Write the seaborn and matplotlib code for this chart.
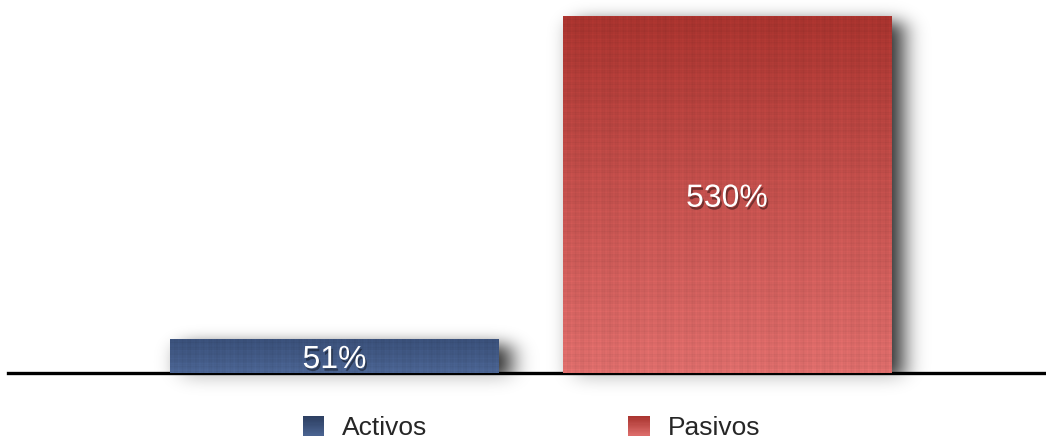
import numpy as np
import pandas as pd
import matplotlib
matplotlib.use("Agg")
import matplotlib.pyplot as plt
import matplotlib.patheffects as pe
from matplotlib.colors import to_rgb
from matplotlib.patches import Rectangle
from matplotlib.legend_handler import HandlerBase
import seaborn as sns

# ---- data -----------------------------------------------------------------
categories = ["Activos", "Pasivos"]
values = [51, 530]
value_labels = ["51%", "530%"]
top_colors = ["#394f78", "#a8332e"]
bottom_colors = ["#4a6391", "#dd6d6b"]

# ---- figure ----------------------------------------------------------------
W_PX, H_PX, DPI = 1046, 438, 100
sns.set_theme(style="white")
plt.rcParams["font.family"] = ["Liberation Sans", "DejaVu Sans"]

fig = plt.figure(figsize=(W_PX / DPI, H_PX / DPI), dpi=DPI)
ax_left, ax_bottom = 8, 65
ax_w, ax_h = W_PX - ax_left, H_PX - ax_bottom
ax = fig.add_axes([ax_left / W_PX, ax_bottom / H_PX, ax_w / W_PX, ax_h / H_PX])

df = pd.DataFrame({"categoria": categories, "valor": values})
sns.barplot(data=df, x="categoria", y="valor", hue="categoria",
            palette=top_colors, width=0.838, ax=ax, legend=False,
            saturation=1, zorder=3)

XLIM = (-0.832, 1.813)
YLIM = (0, 553.7)
ax.set_xlim(*XLIM)
ax.set_ylim(*YLIM)
ax.set_xlabel("")
ax.set_ylabel("")
ax.set_xticks([])
ax.set_yticks([])
for side in ["left", "right", "top"]:
    ax.spines[side].set_visible(False)
ax.spines["bottom"].set_color("black")
ax.spines["bottom"].set_linewidth(2.4)
ax.spines["bottom"].set_zorder(2)

px_per_x = ax_w / (XLIM[1] - XLIM[0])
px_per_y = ax_h / (YLIM[1] - YLIM[0])


def blend(c_top, c_bot, t):
    a, b = np.array(to_rgb(c_top)), np.array(to_rgb(c_bot))
    return a * (1 - t) + b * t


def linen(rows, cols):
    """Faint woven-cloth shading: uneven vertical and horizontal threads."""
    r = np.arange(rows)[:, None]
    c = np.arange(cols)[None, :]
    vert = (np.sin(c * 0.91) + 0.7 * np.sin(c * 2.37 + 1.3)
            + 0.5 * np.sin(c * 0.23 + 0.4))
    horiz = (np.sin(r * 1.07 + 0.6) + 0.7 * np.sin(r * 2.71)
             + 0.5 * np.sin(r * 0.19 + 2.1))
    return 1 + 0.018 * vert + 0.018 * horiz


# ---- gradient fill clipped to each bar -------------------------------------
bars = list(ax.patches)
for bar, ctop, cbot in zip(bars, top_colors, bottom_colors):
    x0, y0 = bar.get_x(), bar.get_y()
    w, h = bar.get_width(), bar.get_height()
    rows = max(int(round(h * px_per_y)), 2)
    cols = max(int(round(w * px_per_x)), 2)
    t = np.linspace(0, 1, rows)[:, None, None]
    grad = blend(ctop, cbot, t) * np.ones((1, cols, 1))
    grad = np.clip(grad * linen(rows, cols)[:, :, None], 0, 1)
    im = ax.imshow(grad, extent=(x0, x0 + w, y0, y0 + h), aspect="auto",
                   origin="upper", zorder=4, interpolation="nearest")
    im.set_clip_path(bar)
    bar.set_edgecolor("none")

# ---- soft drop shadow behind the bars --------------------------------------
extra_below = 40
gw, gh = ax_w, ax_h + extra_below
mask = np.zeros((gh, gw))
off_x, off_y = 12, 6
for bar in bars:
    c0 = int(round((bar.get_x() - XLIM[0]) * px_per_x)) + off_x
    c1 = int(round((bar.get_x() + bar.get_width() - XLIM[0]) * px_per_x)) + off_x
    r_top = int(round(ax_h - bar.get_height() * px_per_y)) + off_y
    r_bot = ax_h + off_y
    mask[max(r_top, 0):min(r_bot, gh), max(c0, 0):min(c1, gw)] = 1.0


def gauss_matrix(n, sigma):
    idx = np.arange(n)
    k = np.exp(-0.5 * ((idx[:, None] - idx[None, :]) / sigma) ** 2)
    return k / k.sum(axis=1, keepdims=True)


blur = gauss_matrix(gh, 8.0) @ mask @ gauss_matrix(gw, 11.0).T
alpha = np.clip(blur * 0.85, 0, 1)
alpha[ax_h:, :] *= 0.25
rgba = np.zeros((gh, gw, 4))
rgba[..., 3] = alpha
y_low = -extra_below / px_per_y
ax.imshow(rgba, extent=(XLIM[0], XLIM[1], y_low, YLIM[1]), aspect="auto",
          origin="upper", zorder=1, clip_on=False, interpolation="bilinear")
ax.set_xlim(*XLIM)
ax.set_ylim(*YLIM)

# ---- value labels ----------------------------------------------------------
for bar, lab in zip(bars, value_labels):
    ax.annotate(lab, (bar.get_x() + bar.get_width() / 2, bar.get_height() / 2),
                xytext=(0, -3), textcoords="offset points",
                ha="center", va="center", color="white", fontsize=23, zorder=6,
                path_effects=[pe.withSimplePatchShadow(offset=(1.2, -2.0),
                                                       shadow_rgbFace="black",
                                                       alpha=0.4)])


# ---- legend with gradient swatches -----------------------------------------
class GradientSwatch(HandlerBase):
    def __init__(self, c_top, c_bot, steps=16):
        super().__init__()
        self.c_top, self.c_bot, self.steps = c_top, c_bot, steps

    def create_artists(self, legend, orig_handle, xdescent, ydescent,
                       width, height, fontsize, trans):
        arts = []
        for i in range(self.steps):
            t = 1 - (i + 0.5) / self.steps
            arts.append(Rectangle((-xdescent, -ydescent + height * i / self.steps),
                                  width, height / self.steps * 1.05,
                                  facecolor=blend(self.c_top, self.c_bot, t),
                                  edgecolor="none", transform=trans))
        return arts


legend_tops = ["#2c3e60", "#a8332e"]
handles = [Rectangle((0, 0), 1, 1) for _ in categories]
hmap = {h: GradientSwatch(ct, cb) for h, ct, cb in zip(handles, legend_tops, bottom_colors)}
fig.legend(handles, categories, handler_map=hmap, loc="center",
           bbox_to_anchor=(531.5 / W_PX, 10 / H_PX), ncol=2, frameon=False,
           fontsize=19, handlelength=0.83, handleheight=0.76,
           handletextpad=0.68, columnspacing=7.6, borderpad=0, borderaxespad=0)

fig.savefig("out.png", dpi=DPI)
